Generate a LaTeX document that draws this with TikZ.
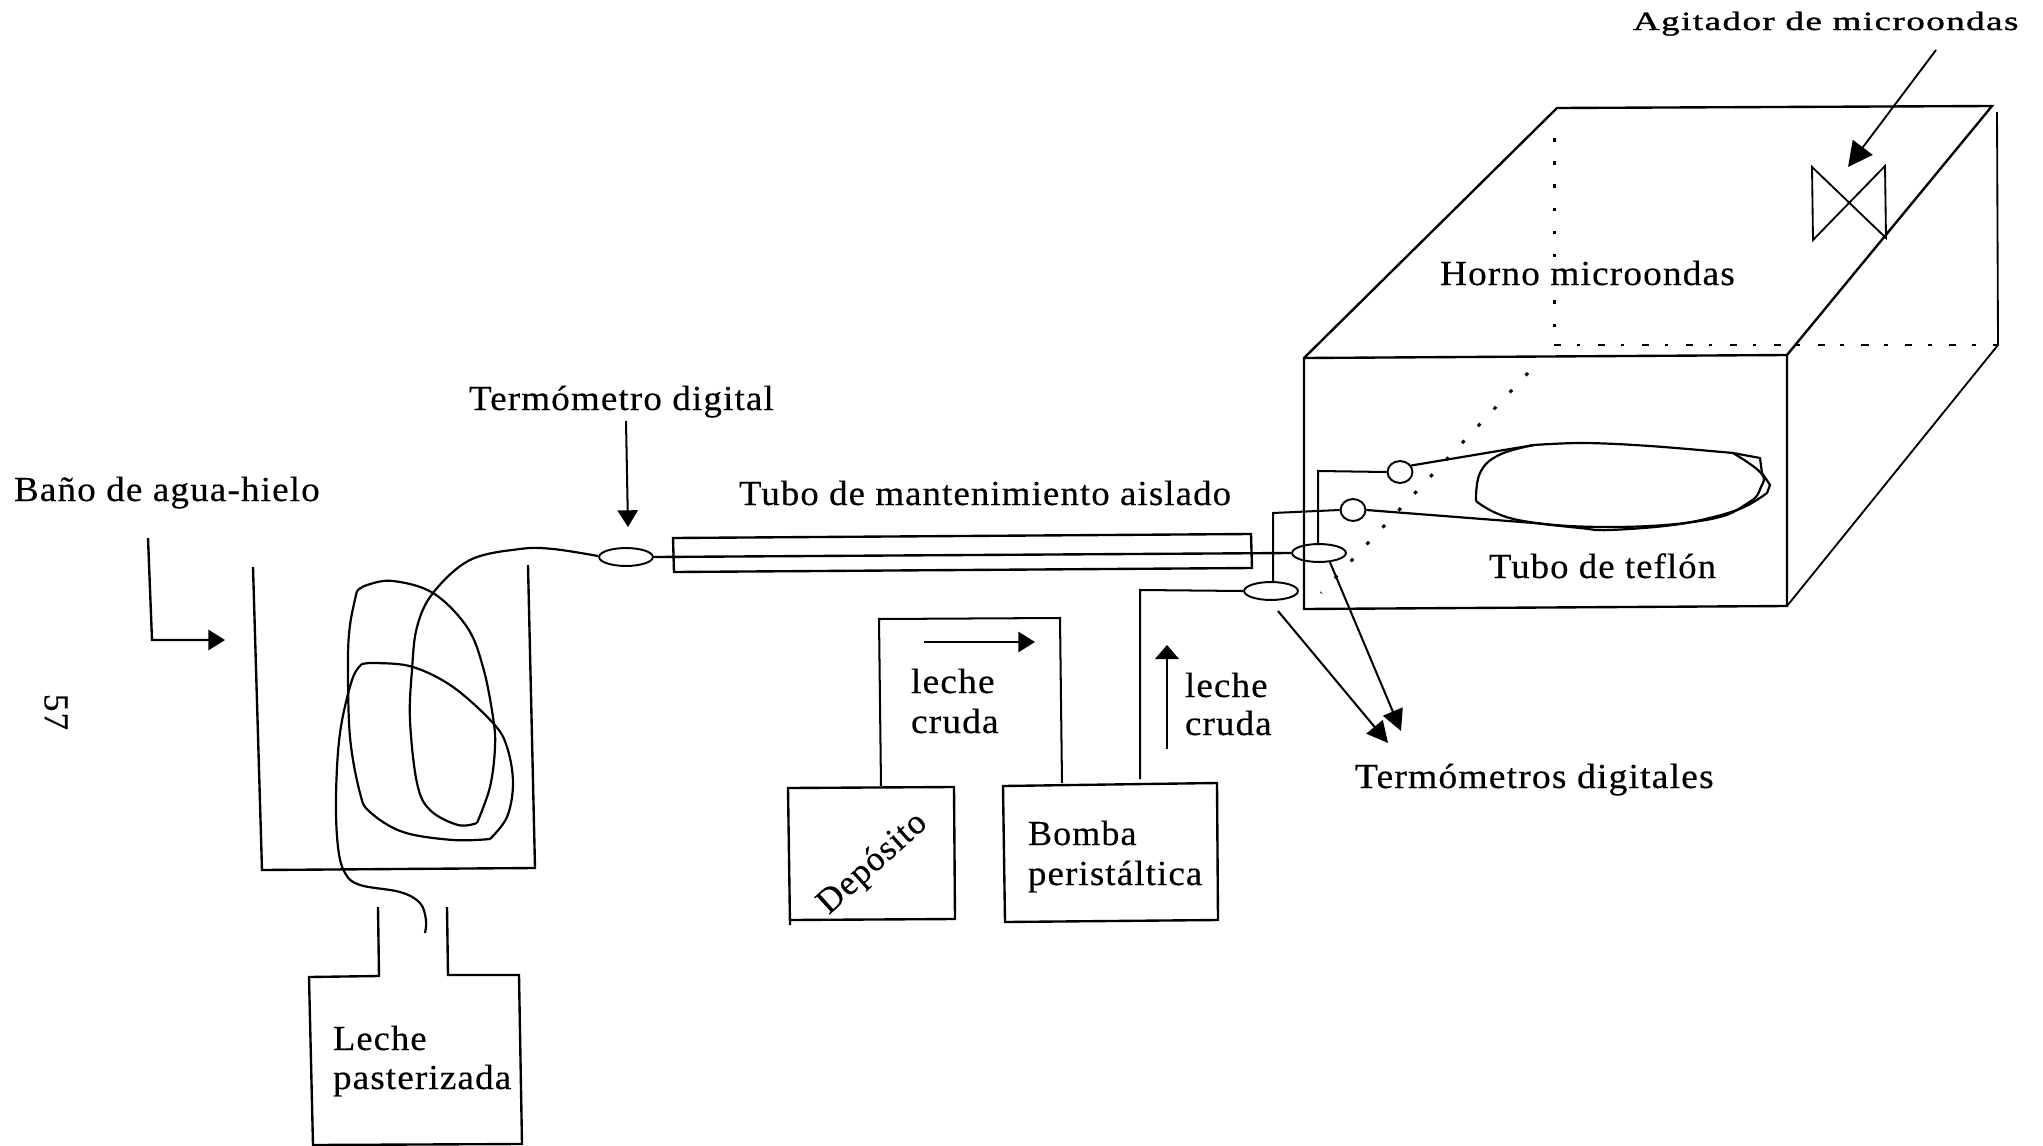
\documentclass[tikz,border=0pt]{standalone}
\usepackage{fontspec}
\usepackage{graphicx}
\setmainfont[LetterSpace=3,FakeBold=0.35]{Liberation Serif}
\newfontfamily\agfont[LetterSpace=4,FakeBold=1.1]{Liberation Serif}
\usetikzlibrary{arrows.meta,shapes.geometric}
\newcommand{\lab}[5][20pt]{\node[txt] (#2) at #3 {\resizebox{\dimexpr 0.5669pt*#4\relax}{\height}{\fontsize{#1}{#1}\selectfont #5}};}
\tikzset{
  x=0.02cm,y=-0.02cm,
  ln/.style={line width=1.35pt,line join=miter},
  thin line/.style={line width=1.05pt},
  txt/.style={anchor=base west,inner sep=0pt,outer sep=0pt},
  ell/.style={draw,ellipse,line width=1.1pt,inner sep=0pt,minimum width=54*0.5669pt,minimum height=18*0.5669pt},
  circ/.style={draw,ellipse,line width=1.1pt,inner sep=0pt,minimum width=25*0.5669pt,minimum height=22*0.5669pt},
  head/.style={-{Triangle[length=9.5pt,width=11.5pt]}},
  bighead/.style={-{Triangle[length=12pt,width=12pt]}},
  pipe/.style={line width=1.15pt},
  tube/.style={line width=1.25pt,line join=round},
  dots/.style={line width=1.7pt,dash pattern=on 2pt off 11.2pt},
  dashdots/.style={line width=1.2pt,dash pattern=on 4pt off 9pt on 2pt off 10pt},
}
\begin{document}
\begin{tikzpicture}
\useasboundingbox (0,0) rectangle (2043,1146);
% oven
\coordinate (fl) at (1304,358); \coordinate (fr) at (1787,355);
\coordinate (bl) at (1304,609); \coordinate (br) at (1787,606);
\coordinate (tl) at (1557,108); \coordinate (tr) at (1992,106);
\coordinate (sb) at (1998,345); \coordinate (st) at (1997,112);
\coordinate (il) at (1554,345);
\draw[ln] (fl) -- (fr) -- (br) -- (bl) -- cycle;
\draw[ln] (fl) -- (tl) -- (tr) -- (fr);
\draw[thin line] (st) -- (sb) -- (br);
\draw[dots] (1554,138) -- (1554,340);
\draw[dashdots] (il) -- (sb);
\draw[dots] (1528,373) -- (1321,593);
% stirrer
\coordinate (s1) at (1812,167); \coordinate (s2) at (1885,166);
\coordinate (s3) at (1886,238); \coordinate (s4) at (1813,240);
\draw[thin line] (s1) -- (s3) -- (s2) -- (s4) -- cycle;
\coordinate (agS) at (1936,50); \coordinate (agT) at (1848,167);
\draw[thin line,-{Triangle[length=14pt,width=14pt]}] (agS) -- (agT);
% thermometer sensors
\node[circ] (A) at (1400,472) {};
\node[circ] (B) at (1353,510) {};
\node[ell] (C) at (1319,553) {};
\node[ell] (D) at (1271,591) {};
\node[ell] (E) at (626,557) {};
% teflon tube
\draw[tube] (A.30) -- (1534,445) plot[smooth,tension=0.6] coordinates {(1534,445) (1584,443) (1650,446) (1733,453)}
  -- (1760,458) -- (1762,473) -- (1770,485) -- (1767,493)
  plot[smooth,tension=0.6] coordinates {(1767,493) (1737,510) (1680,524) (1610,530) (1580,528) (1534,523)} -- (B.east);
\draw[tube] plot[smooth,tension=0.7] coordinates {(1733,453) (1761,473) (1761,487) (1748,503) (1706,520) (1610,527) (1518,520) (1476,501)};
\draw[tube] plot[smooth,tension=0.7] coordinates {(1476,501) (1480,473) (1499,455) (1534,445)};
\coordinate (aw) at (1318,471); \coordinate (bw) at (1273,513);
\draw[pipe] (A.west) -- (aw) -- (aw |- C.north);
\draw[pipe] (B.west) -- (bw) -- (bw |- D.north);
% holding tube
\coordinate (h1) at (673,538); \coordinate (h2) at (1251,534); \coordinate (h3) at (1252,568); \coordinate (h4) at (674,572);
\draw[ln] (h1) -- (h2) -- (h3) -- (h4) -- cycle;
\draw[ln] (E.east) -- (C.west);
% pump lines
\coordinate (p1) at (1140,590); \coordinate (p2) at (1140,779);
\draw[pipe] (D.west) -- (p1) -- (p2);
\coordinate (q1) at (881,786); \coordinate (q2) at (879,619); \coordinate (q3) at (1060,618); \coordinate (q4) at (1062,783);
\draw[pipe] (q1) -- (q2) -- (q3) -- (q4);
% deposit and pump boxes
\coordinate (d1) at (788,788); \coordinate (d2) at (954,787); \coordinate (d3) at (955,919); \coordinate (d4) at (790,920); \coordinate (d5) at (790,925);
\draw[ln] (d5) -- (d1) -- (d2) -- (d3) -- (d4);
\coordinate (b1) at (1003,786); \coordinate (b2) at (1217,783); \coordinate (b3) at (1218,920); \coordinate (b4) at (1005,922);
\draw[ln] (b1) -- (b2) -- (b3) -- (b4) -- cycle;
% flow arrows
\coordinate (f1) at (924,642); \coordinate (f2) at (1035,642);
\draw[ln,head] (f1) -- (f2);
\coordinate (f3) at (1167,749); \coordinate (f4) at (1167,645);
\draw[pipe,-{Triangle[length=8pt,width=13.5pt]}] (f3) -- (f4);
% thermometer arrows
\coordinate (ta1) at (1278,611); \coordinate (ta2) at (1388,743);
\draw[pipe,bighead] (ta1) -- (ta2);
\coordinate (tc2) at (1401,731);
\draw[pipe,bighead] (C.-40) -- (tc2);
% digital thermometer arrow
\coordinate (dt1) at (626,421);
\coordinate (dt2) at (628,527);
\draw[pipe,head] (dt1) -- (dt2);
% bath
\coordinate (w1) at (253,567); \coordinate (w2) at (262,870); \coordinate (w3) at (535,868); \coordinate (w4) at (528,565);
\draw[ln] (w1) -- (w2) -- (w3) -- (w4);
% bath arrow
\coordinate (ba1) at (148,538); \coordinate (ba2) at (152,640); \coordinate (ba3) at (225,640);
\draw[ln,head] (ba1) -- (ba2) -- (ba3);
% coil
\draw[tube] plot[smooth,tension=0.6] coordinates {(598,556) (553,549) (520,549) (470,560) (433,593) (417,627) (412,670) (410,720) (417,783) (430,810) (458,825) (477,823)};
\draw[tube] plot[smooth,tension=0.6] coordinates {(477,823) (490,787) (495,747) (493,717) (483,667) (467,627) (433,593) (393,581) (367,585) (357,591)};
\draw[tube] plot[smooth,tension=0.6] coordinates {(357,591) (350,625) (348,663) (350,737) (360,793) (370,812) (403,832) (453,840) (490,839)};
\draw[tube] plot[smooth,tension=0.6] coordinates {(490,839) (507,817) (513,783) (507,747) (493,723) (453,687) (413,667) (377,663) (362,664)};
\draw[tube] plot[smooth,tension=0.6] coordinates {(362,664) (352,680) (340,733) (336,797) (338,847) (345,873) (360,885) (400,892) (420,903) (426,920) (425,933)};
% bottle
\coordinate (n1) at (378,907); \coordinate (n2) at (379,976); \coordinate (n3) at (309,977); \coordinate (n4) at (313,1145);
\coordinate (n5) at (522,1144); \coordinate (n6) at (519,975); \coordinate (n7) at (448,975); \coordinate (n8) at (447,907);
\draw[ln] (n1) -- (n2) -- (n3) -- (n4) -- (n5) -- (n6) -- (n7) -- (n8);
% labels
\node[txt] (lAg) at (1633,30) {\resizebox{\dimexpr 0.5669pt*387\relax}{\height}{\fontsize{15pt}{15pt}\agfont Agitador de microondas}};
\lab{lHo}{(1440,285)}{296}{Horno microondas}
\lab{lTf}{(1489,578)}{228}{Tubo de teflón}
\lab{lTg}{(1355,788)}{360}{Termómetros digitales}
\lab{lTd}{(469,410)}{306}{Termómetro digital}
\lab{lTm}{(739,505)}{494}{Tubo de mantenimiento aislado}
\lab{lBa}{(14,501)}{307}{Baño de agua-hielo}
\lab{lLe}{(333,1050)}{94}{Leche}
\lab{lPa}{(333,1089)}{179}{pasterizada}
\lab{lL1}{(911,693)}{84}{leche}
\lab{lC1}{(911,733)}{88}{cruda}
\lab{lL2}{(1185,697)}{83}{leche}
\lab{lC2}{(1185,735)}{87}{cruda}
\lab{lBo}{(1028,845)}{109}{Bomba}
\lab{lPe}{(1028,885)}{175}{peristáltica}
\node[rotate=42,inner sep=0pt] (lDe) at (873,864) {\fontsize{20pt}{20pt}\selectfont Depósito};
\node[rotate=-90,inner sep=0pt] (l57) at (56,712) {\fontsize{20pt}{20pt}\selectfont 57};
\end{tikzpicture}
\end{document}
